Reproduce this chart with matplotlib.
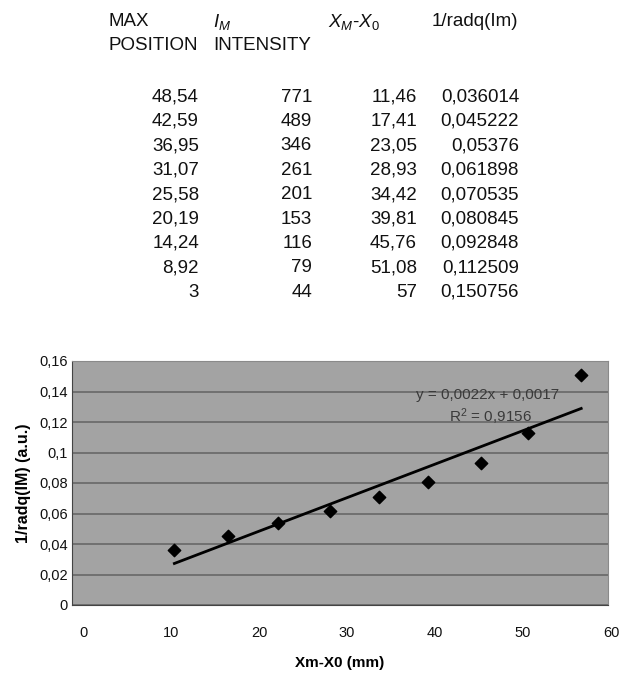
import numpy as np
import matplotlib
matplotlib.use('Agg')
import matplotlib.pyplot as plt
from matplotlib.ticker import FuncFormatter, MultipleLocator
from matplotlib.transforms import ScaledTranslation

plt.rcParams['font.family'] = ['Liberation Sans', 'DejaVu Sans']
plt.rcParams['mathtext.fontset'] = 'custom'
plt.rcParams['mathtext.rm'] = 'Liberation Sans'
plt.rcParams['mathtext.it'] = 'Liberation Sans:italic'

# table data
max_pos = ['48,54', '42,59', '36,95', '31,07', '25,58', '20,19', '14,24', '8,92', '3']
intensity = [771, 489, 346, 261, 201, 153, 116, 79, 44]
xm_x0 = [11.46, 17.41, 23.05, 28.93, 34.42, 39.81, 45.76, 51.08, 57]
inv_sqrt = [0.036014, 0.045222, 0.05376, 0.061898, 0.070535, 0.080845, 0.092848, 0.112509, 0.150756]
xm_x0_txt = ['11,46', '17,41', '23,05', '28,93', '34,42', '39,81', '45,76', '51,08', '57']
inv_txt = ['0,036014', '0,045222', '0,05376', '0,061898', '0,070535', '0,080845', '0,092848', '0,112509', '0,150756']

fig = plt.figure(figsize=(6.24, 6.77), dpi=100)
W, H = 624, 677

def ft(x, y, s, **kw):
    fig.text(x / W, 1 - y / H, s, va='center', fontsize=13.5, color='#111111', **kw)

# header
ft(108, 22, 'MAX')
ft(108, 45, 'POSITION')
ft(213, 22, '$I_M$')
ft(213, 45, 'INTENSITY')
ft(328, 22, '$X_M$-$X_0$')
ft(432, 22, '1/radq(Im)')

row_y0, row_dy = 97, 24.4
for i in range(len(max_pos)):
    yy = row_y0 + i * row_dy
    ft(199, yy, max_pos[i], ha='right')
    ft(312, yy, str(intensity[i]), ha='right')
    ft(417, yy, xm_x0_txt[i], ha='right')
    ft(519, yy, inv_txt[i], ha='right')

# chart
ax = fig.add_axes([72 / W, 1 - 605 / H, (608 - 72) / W, (605 - 361) / H])
ax.set_facecolor('#a3a3a3')
ax.set_xlim(0, 60)
ax.set_ylim(0, 0.16)
ax.yaxis.set_major_locator(MultipleLocator(0.02))
ax.xaxis.set_major_locator(MultipleLocator(10))
ax.grid(axis='y', color='#676767', linewidth=1.2)
ax.set_axisbelow(True)
for s in ax.spines.values():
    s.set_color('#8a8a8a')
ax.spines['left'].set_color('#444444')
ax.spines['bottom'].set_color('#444444')
ax.tick_params(length=0, labelsize=10.5, colors='#111111')
ax.tick_params(axis='x', pad=15)
ax.tick_params(axis='y', pad=3)

def comma(v, pos):
    s = ('%.2f' % v).rstrip('0').rstrip('.')
    return s.replace('.', ',')
ax.yaxis.set_major_formatter(FuncFormatter(comma))
ax.xaxis.set_major_formatter(FuncFormatter(lambda v, p: '%d' % v))
fig.canvas.draw()
for v, lab in zip(ax.get_xticks(), ax.get_xticklabels()):
    dx = 11 - 8 * v / 60
    lab.set_transform(lab.get_transform() + ScaledTranslation(dx / 100, 0, fig.dpi_scale_trans))

ax.scatter(xm_x0, inv_sqrt, marker='D', s=40, color='black', zorder=3)

slope, icpt = np.polyfit(xm_x0, inv_sqrt, 1)
xs = np.array([xm_x0[0], xm_x0[-1]])
ax.plot(xs, slope * xs + icpt, color='black', linewidth=2, zorder=3)

ax.text(416 / 536, 1 - 34 / 244, 'y = 0,0022x + 0,0017', transform=ax.transAxes, ha='center',
        va='center', fontsize=11, color='#3a3a3a')
ax.text(418 / 536, 1 - 56 / 244, 'R$^2$ = 0,9156', transform=ax.transAxes, ha='center',
        va='center', fontsize=11, color='#3a3a3a')

ax.set_ylabel('1/radq(IM) (a.u.)', fontsize=11.5, fontweight='bold', labelpad=6)
ax.set_xlabel('Xm-X0 (mm)', fontsize=11, fontweight='bold', labelpad=12)

fig.savefig('out.png', dpi=100)
